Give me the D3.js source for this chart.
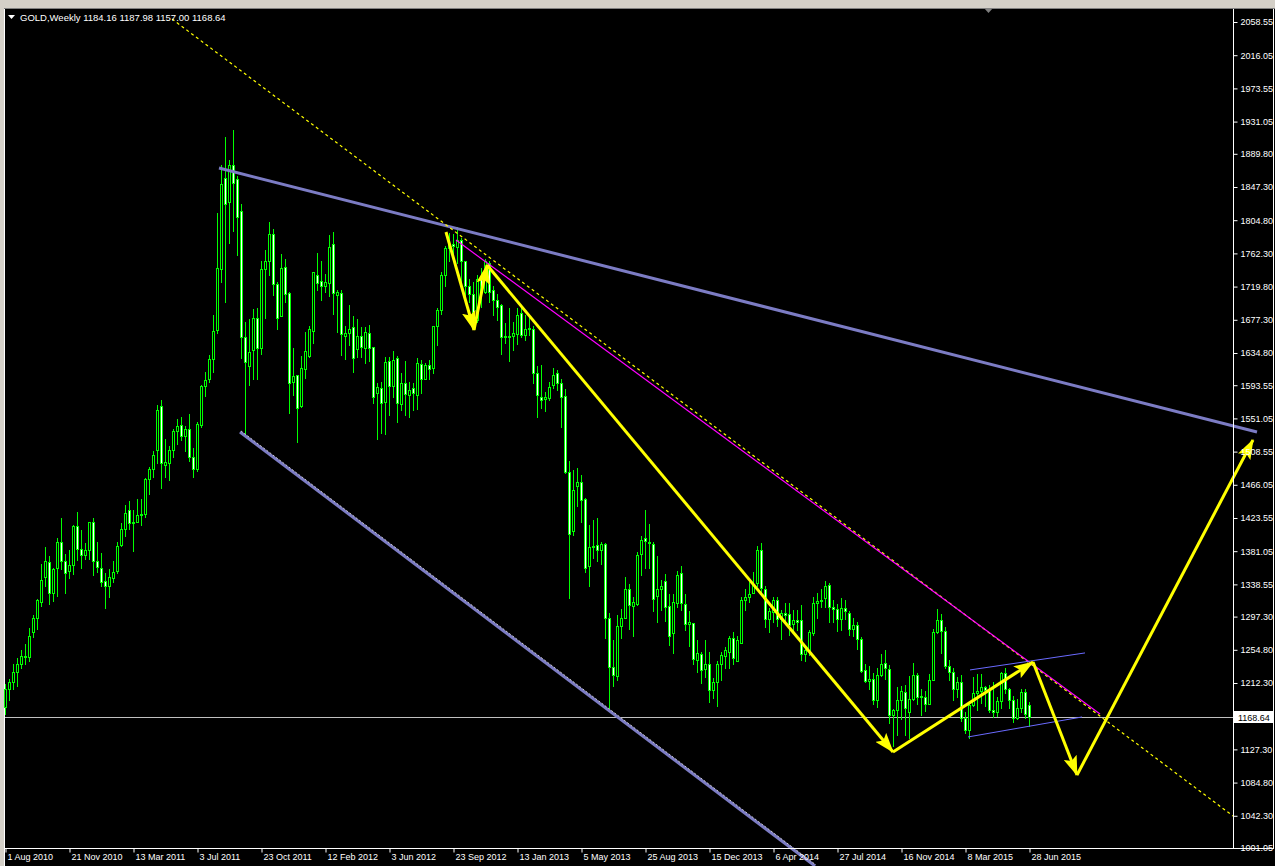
<!DOCTYPE html>
<html><head><meta charset="utf-8">
<script src="https://cdn.jsdelivr.net/npm/d3@7"></script>
<style>
html,body{margin:0;padding:0;background:#000;overflow:hidden;}
svg{display:block;}
text{font-family:"Liberation Sans",Arial,sans-serif;}
</style></head><body>
<svg id="c" width="1275" height="866"></svg>
<script>
// ---- weekly OHLC, GOLD, bar 0 = week of 1 Aug 2010 ----
const opens=[1182,1204,1214,1227,1237,1247,1245,1277,1296,1316,
1348,1367,1327,1359,1393,1369,1356,1363,1413,1384,
1376,1382,1418,1369,1360,1343,1337,1347,1356,1389,
1409,1434,1417,1419,1428,1429,1474,1486,1510,1567,
1492,1494,1510,1535,1543,1529,1538,1501,1486,1543,
1592,1601,1627,1664,1742,1859,1828,1876,1858,1816,
1655,1618,1638,1680,1641,1742,1752,1787,1723,1682,
1745,1711,1598,1606,1567,1614,1631,1663,1735,1727,
1721,1725,1774,1709,1712,1657,1661,1668,1640,1656,
1641,1661,1642,1584,1590,1572,1624,1592,1629,1570,
1597,1581,1590,1581,1621,1602,1620,1615,1669,1690,
1735,1769,1774,1770,1779,1752,1720,1710,1677,1730,
1713,1750,1715,1703,1696,1655,1657,1656,1659,1686,
1658,1665,1666,1609,1579,1576,1577,1594,1609,1596,
1580,1482,1407,1465,1469,1448,1362,1386,1389,1383,
1390,1296,1233,1221,1285,1295,1332,1311,1314,1377,
1398,1393,1390,1324,1333,1343,1311,1276,1315,1353,
1313,1288,1289,1242,1250,1230,1237,1203,1213,1237,
1247,1252,1270,1241,1264,1318,1323,1327,1340,1383,
1332,1294,1303,1318,1294,1302,1300,1288,1293,1293,
1250,1254,1276,1315,1317,1321,1338,1310,1307,1294,
1308,1302,1281,1287,1268,1229,1215,1218,1191,1222,
1238,1230,1171,1178,1190,1201,1175,1192,1222,1196,
1195,1186,1216,1277,1293,1279,1234,1227,1204,1213,
1167,1152,1184,1199,1202,1207,1203,1178,1175,1189,
1225,1205,1190,1168,1180,1201,1184.16];
const highs=[1211,1217,1237,1244,1254,1262,1283,1299,1320,1365,
1386,1375,1360,1398,1424,1378,1383,1415,1431,1408,
1391,1418,1424,1393,1379,1353,1358,1369,1393,1417,
1440,1445,1434,1448,1448,1475,1489,1509,1568,1575,
1525,1516,1537,1550,1553,1541,1557,1513,1546,1594,
1610,1632,1684,1814,1876,1911,1882,1920,1862,1826,
1675,1678,1691,1693,1752,1767,1802,1794,1726,1761,
1755,1713,1641,1606,1631,1662,1669,1739,1763,1752,
1736,1786,1790,1715,1715,1669,1696,1682,1678,1668,
1668,1671,1643,1596,1598,1630,1630,1637,1631,1609,
1625,1598,1597,1628,1626,1622,1626,1669,1693,1739,
1772,1788,1787,1796,1782,1753,1730,1726,1735,1743,
1755,1752,1720,1710,1697,1673,1693,1674,1693,1693,
1683,1681,1669,1618,1619,1585,1598,1615,1613,1602,
1589,1496,1485,1487,1479,1449,1415,1421,1424,1393,
1392,1302,1267,1299,1307,1348,1339,1323,1380,1400,
1434,1416,1393,1375,1344,1352,1326,1326,1356,1362,
1326,1304,1289,1267,1252,1267,1252,1219,1240,1252,
1259,1272,1278,1272,1322,1332,1342,1355,1388,1392,
1336,1308,1323,1323,1306,1315,1315,1306,1306,1312,
1257,1280,1323,1327,1332,1343,1340,1318,1314,1321,
1318,1304,1296,1291,1271,1236,1234,1225,1231,1249,
1255,1235,1179,1207,1208,1210,1221,1238,1225,1204,
1202,1224,1282,1307,1300,1284,1242,1232,1220,1223,
1175,1188,1220,1224,1224,1209,1210,1214,1194,1226,
1232,1206,1196,1192,1204,1205,1187.98];
const lows=[1173,1190,1204,1209,1231,1236,1240,1271,1282,1311,
1336,1314,1317,1324,1358,1328,1347,1352,1370,1360,
1371,1371,1351,1354,1337,1308,1323,1342,1353,1388,
1401,1410,1381,1418,1414,1425,1454,1476,1494,1462,
1476,1472,1502,1518,1523,1509,1497,1476,1484,1540,
1580,1598,1610,1660,1726,1700,1775,1791,1760,1628,
1531,1594,1602,1602,1634,1680,1735,1709,1665,1682,
1700,1558,1581,1521,1566,1603,1630,1648,1715,1703,
1713,1708,1685,1662,1632,1627,1645,1611,1630,1630,
1622,1625,1571,1525,1533,1531,1555,1579,1547,1562,
1555,1553,1562,1563,1583,1601,1602,1609,1645,1685,
1720,1752,1756,1750,1720,1709,1700,1672,1674,1694,
1711,1700,1683,1677,1634,1648,1624,1638,1646,1655,
1651,1658,1597,1553,1564,1560,1574,1590,1587,1540,
1481,1321,1402,1439,1419,1355,1337,1372,1368,1365,
1270,1180,1208,1216,1270,1295,1282,1272,1312,1350,
1359,1359,1304,1291,1306,1292,1261,1251,1310,1306,
1280,1260,1237,1227,1212,1220,1188,1193,1183,1216,
1231,1231,1237,1240,1264,1306,1316,1327,1336,1328,
1284,1278,1291,1285,1268,1290,1274,1280,1280,1242,
1240,1248,1274,1295,1310,1310,1291,1291,1279,1280,
1294,1274,1272,1256,1227,1213,1205,1186,1182,1221,
1218,1161,1131,1146,1166,1146,1142,1190,1186,1171,
1177,1185,1216,1276,1251,1232,1216,1191,1194,1164,
1148,1142,1183,1178,1187,1183,1175,1169,1170,1180,
1200,1180,1162,1166,1175,1168,1157.00];
const closes=[1204,1214,1227,1237,1247,1245,1273,1295,1318,1344,
1368,1327,1358,1393,1368,1353,1363,1413,1384,1376,
1383,1418,1368,1361,1341,1336,1348,1355,1388,1409,
1430,1417,1419,1428,1429,1474,1486,1504,1562,1494,
1495,1510,1535,1541,1529,1538,1501,1486,1544,1592,
1600,1627,1663,1744,1851,1826,1876,1853,1809,1655,
1623,1636,1679,1641,1742,1753,1787,1723,1679,1744,
1710,1597,1605,1564,1615,1637,1665,1738,1724,1720,
1726,1771,1711,1713,1659,1660,1666,1629,1657,1642,
1662,1641,1578,1591,1571,1623,1592,1626,1571,1597,
1582,1588,1583,1622,1602,1619,1614,1669,1690,1735,
1769,1774,1772,1780,1752,1721,1710,1677,1729,1713,
1752,1713,1703,1694,1655,1657,1655,1661,1683,1658,
1665,1667,1609,1581,1575,1579,1591,1607,1596,1579,
1483,1403,1460,1470,1447,1359,1387,1388,1383,1390,
1295,1233,1223,1285,1295,1332,1312,1316,1376,1396,
1394,1391,1320,1333,1336,1310,1272,1316,1350,1315,
1288,1290,1243,1251,1229,1237,1203,1213,1237,1248,
1254,1270,1244,1267,1318,1323,1326,1339,1383,1334,
1294,1304,1318,1294,1302,1299,1287,1293,1291,1249,
1254,1277,1315,1317,1319,1337,1310,1307,1294,1308,
1304,1281,1287,1268,1228,1215,1218,1191,1222,1237,
1231,1171,1178,1190,1202,1180,1192,1222,1195,1195,
1186,1216,1277,1293,1279,1234,1227,1204,1213,1167,
1152,1184,1199,1202,1207,1203,1178,1175,1189,1225,
1205,1190,1168,1180,1201,1173,1168.64];

// ---- axis labels ----
const priceTicks=[2058.55,2016.05,1973.55,1931.05,1889.80,1847.30,1804.80,1762.30,1719.80,1677.30,1634.80,1593.55,1551.05,1508.55,1466.05,1423.55,1381.05,1338.55,1297.30,1254.80,1212.30,1127.30,1084.80,1042.30,1001.05];
const dateTickBars=[0,16,32,48,64,80,96,112,128,144,160,176,192,208,224,240,256];
const dateLabels=["1 Aug 2010","21 Nov 2010","13 Mar 2011","3 Jul 2011","23 Oct 2011","12 Feb 2012","3 Jun 2012","23 Sep 2012","13 Jan 2013","5 May 2013","25 Aug 2013","15 Dec 2013","6 Apr 2014","27 Jul 2014","16 Nov 2014","8 Mar 2015","28 Jun 2015"];

// ---- drawn objects (bar index, price) ----
const upperTrend=[[53.5,1871.6],[313,1533.7]];
const lowerTrend=[[58.75,1533.7],[202.5,978.0]];
const yellowDotted=[[41.75,2062.4],[307,1042.0]];
const magentaLine=[[112.75,1779.4],[273.75,1172.6]];
const zigzag=[[110.25,1789.7],[117.25,1664.2],[120.5,1747.4],[222,1124.0],[257,1239.2],[268,1094.5],[312,1523.4]];
const channelUpper=[[241.25,1229.0],[270,1250.8]];
const channelLower=[[240.75,1143.2],[269.25,1168.8]];

const W=1275,H=866;
const svg=d3.select("#c");
const x=d3.scaleLinear().domain([0,256]).range([5,1029]);
const y=d3.scaleLinear().domain([1001.05,2058.55]).range([848,22]);

svg.append("rect").attr("width",W).attr("height",H).attr("fill","#000");
// window chrome
svg.append("rect").attr("x",0).attr("y",0).attr("width",W).attr("height",8).attr("fill","#d4d0c8");
svg.append("rect").attr("x",0).attr("y",0).attr("width",4).attr("height",H).attr("fill","#d4d0c8");
svg.append("line").attr("x1",4.5).attr("x2",4.5).attr("y1",8).attr("y2",H).attr("stroke","#fff");
svg.append("line").attr("x1",4).attr("x2",1275).attr("y1",8.5).attr("y2",8.5).attr("stroke","#808080");
svg.append("path").attr("d","M984,8 L993,8 L988.5,13 Z").attr("fill","#808080");

// current price line
svg.append("line").attr("x1",5).attr("x2",1233).attr("y1",Math.round(y(closes[closes.length-1]))+0.5).attr("y2",Math.round(y(closes[closes.length-1]))+0.5).attr("stroke","#c0c0c0");

// candles
const bars=d3.range(opens.length).map(i=>({i,o:opens[i],h:highs[i],l:lows[i],c:closes[i]}));
const g=svg.append("g");
g.selectAll("line.w").data(bars).join("line").attr("class","w")
 .attr("x1",d=>Math.round(x(d.i))+0.5).attr("x2",d=>Math.round(x(d.i))+0.5)
 .attr("y1",d=>Math.round(y(d.h))).attr("y2",d=>Math.round(y(d.l))+1)
 .attr("stroke","#00ff00").attr("stroke-width",1);
g.selectAll("rect.b").data(bars).join("rect").attr("class","b")
 .attr("x",d=>Math.round(x(d.i))-0.5)
 .attr("y",d=>Math.round(y(Math.max(d.o,d.c)))+0.5)
 .attr("width",2)
 .attr("height",d=>Math.max(0,Math.round(y(Math.min(d.o,d.c)))-Math.round(y(Math.max(d.o,d.c)))))
 .attr("fill",d=>d.c<d.o?"#fff":"#000")
 .attr("stroke","#00ff00").attr("stroke-width",1);

// drawn objects
const line=d3.line().x(d=>x(d[0])).y(d=>y(d[1]));
svg.append("path").attr("d",line(upperTrend)).attr("stroke","#7c7cc4").attr("stroke-width",3).attr("fill","none");
svg.append("path").attr("d",line(lowerTrend)).attr("stroke","#7c7cc4").attr("stroke-width",3).attr("fill","none");
svg.append("path").attr("d",line(lowerTrend)).attr("stroke","#c8c8c8").attr("stroke-width",1).attr("stroke-dasharray","2,2").attr("fill","none").attr("transform","translate(1,-1)");
svg.append("path").attr("d",line(yellowDotted)).attr("stroke","#ffff00").attr("stroke-width",1.2).attr("stroke-dasharray","3,3").attr("fill","none");
svg.append("path").attr("d",line(magentaLine)).attr("stroke","#ff00ff").attr("stroke-width",1.2).attr("fill","none");
svg.append("path").attr("d",line(channelUpper)).attr("stroke","#6a6aff").attr("stroke-width",1).attr("fill","none");
svg.append("path").attr("d",line(channelLower)).attr("stroke","#6a6aff").attr("stroke-width",1).attr("fill","none");

const defs=svg.append("defs");
defs.append("marker").attr("id","ah").attr("viewBox","0 0 20 14").attr("refX",19).attr("refY",7)
 .attr("markerWidth",20).attr("markerHeight",14).attr("orient","auto").attr("markerUnits","userSpaceOnUse")
 .append("path").attr("d","M0,0 L20,7 L0,14 L4,7 Z").attr("fill","#ffff00");
const segs=d3.pairs(zigzag);
svg.selectAll("path.arr").data(segs).join("path").attr("class","arr")
 .attr("d",d=>line(d)).attr("stroke","#ffff00").attr("stroke-width",3).attr("fill","none")
 .attr("marker-end","url(#ah)");

// axes
const ay=svg.append("g").attr("transform","translate(1233.5,0)")
 .call(d3.axisRight(y).tickValues(priceTicks).tickSize(4).tickSizeOuter(0).tickPadding(3).tickFormat(d=>d.toFixed(2)));
ay.select(".domain").remove();
ay.selectAll("line").attr("stroke","#fff");
ay.selectAll("text").attr("fill","#fff").attr("font-size","9px").attr("font-family","Liberation Sans, Arial, sans-serif");
svg.append("line").attr("x1",1233.5).attr("x2",1233.5).attr("y1",9).attr("y2",849).attr("stroke","#fff");
svg.append("line").attr("x1",1273.5).attr("x2",1273.5).attr("y1",9).attr("y2",849).attr("stroke","#fff");

const ax=svg.append("g").attr("transform","translate(0,848.5)")
 .call(d3.axisBottom(x).tickValues(dateTickBars).tickSize(4).tickSizeOuter(0).tickFormat((d,i)=>dateLabels[i]));
ax.select(".domain").remove();
ax.selectAll("line").attr("stroke","#fff").attr("transform","translate(0.5,0)");
ax.selectAll("text").attr("fill","#fff").attr("font-size","9px").attr("text-anchor","start").attr("x",2).attr("y",5).attr("dy","0.71em").attr("font-family","Liberation Sans, Arial, sans-serif");
svg.append("line").attr("x1",4).attr("x2",1274).attr("y1",848.5).attr("y2",848.5).attr("stroke","#fff");

// current price label
const cp=closes[closes.length-1];
svg.append("rect").attr("x",1234).attr("y",Math.round(y(cp))-6).attr("width",40).attr("height",12).attr("fill","#fff");
svg.append("text").attr("x",1238).attr("y",Math.round(y(cp))+3.5).attr("fill","#000").attr("font-size","9px").text(cp.toFixed(2));

// title
svg.append("path").attr("d","M8,15 L15,15 L11.5,19 Z").attr("fill","#fff");
const n=opens.length-1;
svg.append("text").attr("x",20).attr("y",21).attr("fill","#fff").attr("font-size","9.5px")
 .text("GOLD,Weekly  "+[opens[n],highs[n],lows[n],closes[n]].map(v=>v.toFixed(2)).join(" "));
</script>
</body></html>
